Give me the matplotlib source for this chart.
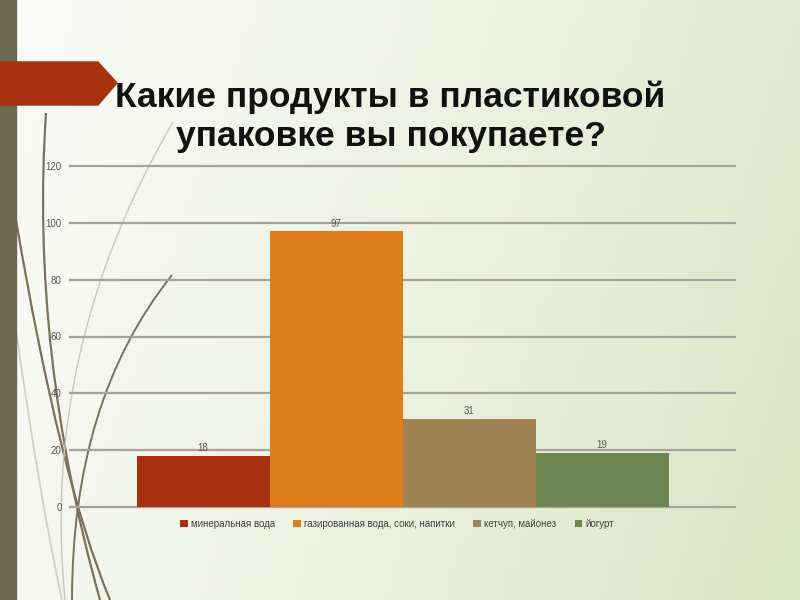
import numpy as np
import matplotlib
matplotlib.use("Agg")
import matplotlib.pyplot as plt
from matplotlib.colors import LinearSegmentedColormap
from matplotlib.path import Path
from matplotlib.patches import PathPatch, Polygon

# ---------------------------------------------------------------------------
# Data
# ---------------------------------------------------------------------------
title_lines = ["Какие продукты в пластиковой", "упаковке вы покупаете?"]
categories = ["минеральная вода", "газированная вода, соки, напитки",
              "кетчуп, майонез", "йогурт"]
values = [18, 97, 31, 19]
colors = ["#a8300f", "#df7e1a", "#a08352", "#6e8751"]
yticks = [0, 20, 40, 60, 80, 100, 120]

plt.rcParams["font.family"] = ["Liberation Sans", "DejaVu Sans"]

fig = plt.figure(figsize=(8, 6), dpi=100)

# ---------------------------------------------------------------------------
# Slide background (pixel coordinates)
# ---------------------------------------------------------------------------
bg = fig.add_axes([0, 0, 1, 1])
bg.set_xlim(0, 800); bg.set_ylim(600, 0); bg.axis("off")
gx, gy = np.meshgrid(np.linspace(0, 1, 80), np.linspace(0, 1, 60))
grad = 0.8 * gx + 0.2 * gy
cmap_bg = LinearSegmentedColormap.from_list("bg", ["#fcfcfa", "#edf2e2", "#dbe6c4"])
bg.imshow(grad, cmap=cmap_bg, extent=[0, 800, 600, 0], aspect="auto", zorder=0)

# left stripe + red arrow tab
bg.add_patch(plt.Rectangle((0, 0), 16, 600, color="#6e6a52", zorder=2))
bg.add_patch(Polygon([(0, 62), (98, 62), (117, 83), (98, 105), (0, 105)],
                     closed=True, color="#a8300f", zorder=3))

# decorative curves
curves = [
    ([(172, 275), (72, 400), (72, 600)], "#7a7259", 1.4),
    ([(46, 113), (30, 350), (100, 600)], "#7a7259", 1.6),
    ([(16, 220), (60, 480), (110, 600)], "#7a7259", 1.6),
    ([(173, 122), (40, 350), (65, 600)], "#c9c8bb", 1.0),
    ([(16, 330), (40, 500), (62, 600)], "#cfcfc2", 1.2),
]
for pts, c, lw in curves:
    path = Path(pts, [Path.MOVETO, Path.CURVE3, Path.CURVE3])
    bg.add_patch(PathPatch(path, facecolor="none", edgecolor=c, lw=lw, zorder=1))

bg.text(390, 107, title_lines[0], ha="center", va="baseline", fontsize=25.5,
        fontweight="bold", color="#111111", zorder=4)
bg.text(391, 146, title_lines[1], ha="center", va="baseline", fontsize=25.5,
        fontweight="bold", color="#111111", zorder=4)

# ---------------------------------------------------------------------------
# Chart
# ---------------------------------------------------------------------------
ax = fig.add_axes([70 / 800, 1 - 507 / 600, 665 / 800, 341 / 600])
ax.patch.set_alpha(0)
x = np.arange(len(values))
bars = ax.bar(x, values, width=1.0, color=colors, zorder=3)
for b, v in zip(bars, values):
    ax.annotate(str(v), (b.get_x() + b.get_width() / 2, v), xytext=(0, 2),
                textcoords="offset points", ha="center", va="bottom",
                fontsize=7, color="#595959", zorder=4)

ax.set_xlim(-1.0, 4.0)
ax.set_ylim(0, 120)
ax.set_yticks(yticks)
ax.set_xticks([])
ax.yaxis.grid(True, color="#a3a39a", lw=1.6, zorder=0)
for gl in ax.yaxis.get_gridlines():
    gl.set_clip_on(False)
ax.tick_params(axis="y", length=0, pad=6, labelsize=7, labelcolor="#595959")
for s in ax.spines.values():
    s.set_visible(False)

leg = fig.legend(handles=list(bars), labels=categories, loc="center",
                 bbox_to_anchor=(397 / 800, 1 - 524 / 600), ncol=4,
                 frameon=False, fontsize=7, handlelength=0.8,
                 handleheight=0.8, handletextpad=0.3, columnspacing=1.9)
for t in leg.get_texts():
    t.set_color("#404040")

fig.savefig("out.png", dpi=100)
